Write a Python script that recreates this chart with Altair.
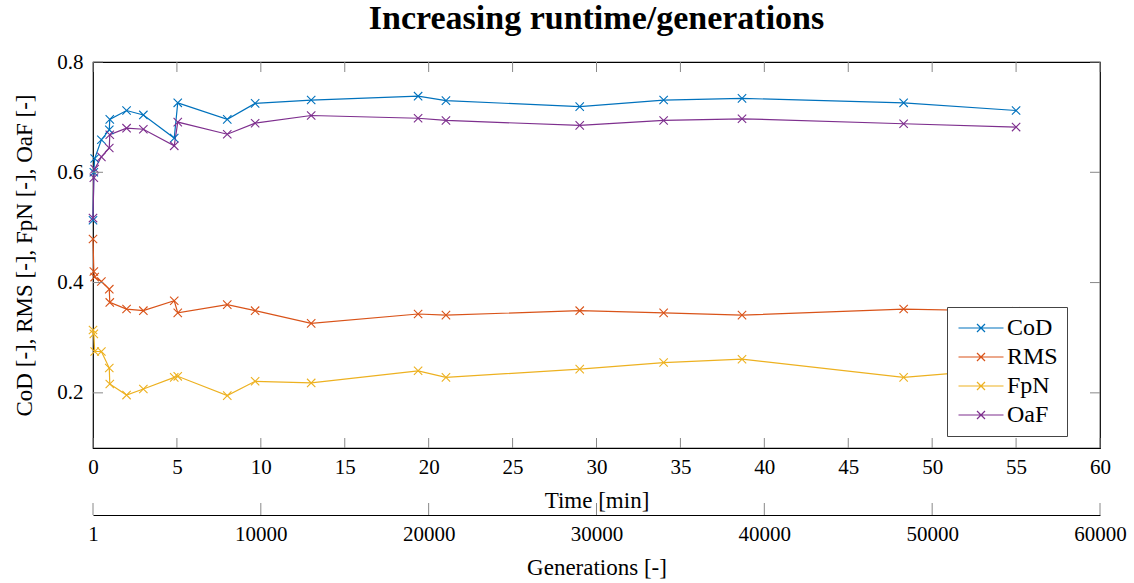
import altair as alt
import pandas as pd

# ---------------- data ----------------
time_min = [0, 0.05, 0.1, 0.5, 0.97, 1.0, 2, 3, 4.84, 5.05, 8, 9.66,
            13, 19.37, 21.03, 29, 34, 38.67, 48.3, 55]
cod = [0.513, 0.600, 0.625, 0.659, 0.677, 0.696, 0.712, 0.704, 0.662, 0.726,
       0.696, 0.725, 0.731, 0.738, 0.730, 0.719, 0.731, 0.734, 0.726, 0.712]
rms = [0.479, 0.420, 0.410, 0.402, 0.388, 0.364, 0.352, 0.349, 0.367, 0.345,
       0.360, 0.349, 0.326, 0.343, 0.341, 0.349, 0.345, 0.341, 0.352, 0.348]
fpn = [0.314, 0.307, 0.275, 0.275, 0.245, 0.216, 0.196, 0.207, 0.228, 0.230,
       0.195, 0.221, 0.218, 0.240, 0.228, 0.243, 0.255, 0.261, 0.228, 0.245]
oaf = [0.517, 0.590, 0.606, 0.628, 0.644, 0.668, 0.680, 0.678, 0.648, 0.691,
       0.669, 0.689, 0.703, 0.698, 0.694, 0.685, 0.694, 0.697, 0.688, 0.682]

series_names = ["CoD", "RMS", "FpN", "OaF"]
series_colors = ["#0072BD", "#D95319", "#EDB120", "#7E2F8E"]

time_ticks = [0, 5, 10, 15, 20, 25, 30, 35, 40, 45, 50, 55, 60]
value_ticks = [0.2, 0.4, 0.6, 0.8]
gen_ticks = [1, 10000, 20000, 30000, 40000, 50000, 60000]

# ---------------- build tables ----------------
rows = []
for name, vals in zip(series_names, [cod, rms, fpn, oaf]):
    for i, (t, v) in enumerate(zip(time_min, vals)):
        rows.append({"series": name, "time": t, "value": v, "idx": i})
df = pd.DataFrame(rows)
tt_df = pd.DataFrame({"time": time_ticks})
vt_df = pd.DataFrame({"value": value_ticks})
gen_df = pd.DataFrame({"g": gen_ticks})

W, H = 1007, 386
FONT = "Liberation Serif"
LBL = 21
TTL = 23
xscale = alt.Scale(domain=[0, 60], nice=False, zero=False)
yscale = alt.Scale(domain=[0.1, 0.8], nice=False, zero=False)
gscale = alt.Scale(domain=[1, 60000], nice=False, zero=False)
cscale = alt.Scale(domain=series_names, range=series_colors)

xaxis = alt.Axis(values=time_ticks, ticks=False, domain=False, grid=False,
                 labelPadding=8, title="Time [min]", titlePadding=12, labelFlush=False,
                 labelFontSize=LBL, titleFontSize=TTL, labelColor="black",
                 titleColor="black", titleFontWeight="normal", format="d")
yaxis = alt.Axis(values=value_ticks, ticks=False, domain=False, grid=False, labelFlush=False,
                 format=".1f", labelPadding=10, title="CoD [-], RMS [-], FpN [-], OaF [-]",
                 titlePadding=20, labelFontSize=LBL, titleFontSize=TTL,
                 labelColor="black", titleColor="black", titleFontWeight="normal")

XMARK = "M-1,-1L1,1M-1,1L1,-1"
LEG_SYM = "M-4.5,0L4.5,0M-0.8,-0.8L0.8,0.8M-0.8,0.8L0.8,-0.8"

lines = alt.Chart(df).mark_line(strokeWidth=1.2, clip=False).encode(
    x=alt.X("time:Q", scale=xscale, axis=xaxis),
    y=alt.Y("value:Q", scale=yscale, axis=yaxis),
    color=alt.Color("series:N", scale=cscale, sort=series_names,
                    legend=alt.Legend(title=None, orient="none", legendX=854, legendY=245,
                                      symbolType=LEG_SYM, symbolSize=100, symbolStrokeWidth=1.2,
                                      symbolFillColor="transparent", symbolOffset=13,
                                      labelOffset=14, labelFontSize=24, labelColor="black",
                                      rowPadding=5, padding=9, strokeColor="#444",
                                      fillColor="white", cornerRadius=0)),
    order="idx:Q",
)

points = alt.Chart(df).mark_point(shape=XMARK, size=70, filled=False, strokeWidth=1.1,
                                  opacity=1, clip=False).encode(
    x=alt.X("time:Q", scale=xscale, axis=xaxis),
    y=alt.Y("value:Q", scale=yscale, axis=yaxis),
    color=alt.Color("series:N", scale=cscale, legend=None),
)

tick_color = "#888"
bx = alt.Chart(tt_df).mark_rule(color=tick_color, strokeWidth=1).encode(
    x=alt.X("time:Q", scale=xscale, axis=xaxis), y=alt.value(H), y2=alt.value(H - 10))
tx = alt.Chart(tt_df).mark_rule(color=tick_color, strokeWidth=1).encode(
    x=alt.X("time:Q", scale=xscale, axis=xaxis), y=alt.value(0), y2=alt.value(10))
ly = alt.Chart(vt_df).mark_rule(color=tick_color, strokeWidth=1).encode(
    y=alt.Y("value:Q", scale=yscale, axis=yaxis), x=alt.value(0), x2=alt.value(10))
ry = alt.Chart(vt_df).mark_rule(color=tick_color, strokeWidth=1).encode(
    y=alt.Y("value:Q", scale=yscale, axis=yaxis), x=alt.value(W - 10), x2=alt.value(W))

main = alt.layer(lines, points, bx, tx, ly, ry)

gen = alt.Chart(gen_df).mark_rule(color=tick_color, strokeWidth=1, clip=False).encode(
    x=alt.X("g:Q", scale=gscale,
            axis=alt.Axis(orient="bottom", offset=67, values=gen_ticks, ticks=False,
                          domain=True, domainColor="black", domainWidth=1, grid=False,
                          labelPadding=8, format="d", title="Generations [-]",
                          titlePadding=12, labelFontSize=LBL, titleFontSize=TTL,
                          labelColor="black", titleColor="black", titleFontWeight="normal",
                          labelFlush=False)),
    y=alt.value(H + 55), y2=alt.value(H + 67),
)

chart = alt.layer(main, gen).resolve_scale(x="independent").properties(
    width=W, height=H,
    title=alt.TitleParams("Increasing runtime/generations", fontSize=34, font=FONT,
                          fontWeight="bold", anchor="middle", offset=15, color="black"),
    autosize=alt.AutoSizeParams(type="none"),
    padding={"left": 93, "top": 62, "right": 34, "bottom": 135},
).configure(font=FONT).configure_view(stroke="black", strokeWidth=1.2).configure_axis(
    labelFont=FONT, titleFont=FONT).configure_legend(labelFont=FONT)

chart.save("out.html", embed_options={"renderer": "svg", "actions": False})
